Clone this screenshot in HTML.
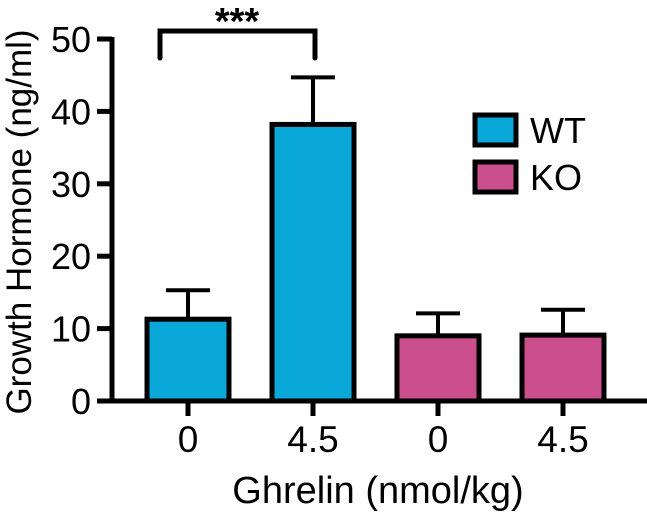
<!DOCTYPE html>
<html><head><meta charset="utf-8"><style>
body{margin:0;background:#fff;}
svg text{font-family:"Liberation Sans",Arial,sans-serif;fill:#000;}
</style></head><body>
<svg id="chart" width="647" height="513" viewBox="0 0 647 513" xmlns="http://www.w3.org/2000/svg">
<g id="bars"></g>
<g id="axes"></g>
</svg>
<script>
const categories = ["0","4.5","0","4.5"];
const groups = ["WT","WT","KO","KO"];
const values = [11.3, 38.2, 9.0, 9.1];
const errors = [4.0, 6.5, 3.1, 3.5];
const yTicks = [0,10,20,30,40,50];
const colors = {WT:"#0aa8d8", KO:"#cc4f8d"};
const NS="http://www.w3.org/2000/svg";
const gb=document.getElementById('bars'), ga=document.getElementById('axes');
function y(v){return 401 - v*7.24;}
function xc(i){return 188 + i*125;}
function mk(tag,attrs,parent,txt){const e=document.createElementNS(NS,tag);for(const k in attrs)e.setAttribute(k,attrs[k]);if(txt!==undefined)e.textContent=txt;parent.appendChild(e);return e;}
const bw=82;
values.forEach((v,i)=>{
  const cx=xc(i);
  const eb=mk('line',{x1:cx,x2:cx,y1:y(v),y2:y(v+errors[i]),stroke:'#000','stroke-width':4},gb);
  
  
  const cap=mk('line',{x1:cx-22,x2:cx+22,y1:y(v+errors[i]),y2:y(v+errors[i]),stroke:'#000','stroke-width':4},gb);
  
  
  const r=mk('rect',{x:cx-bw/2,y:y(v),width:bw,height:y(0)-y(v),fill:colors[groups[i]],stroke:'#000','stroke-width':5},gb);
  
  
  const t=mk('line',{x1:cx,x2:cx,y1:401,y2:416,stroke:'#000','stroke-width':5},ga);
  
  
  const l=mk('text',{x:cx,y:452,'font-size':37,'text-anchor':'middle'},ga,categories[i]);
  
  
});
const ya=mk('line',{x1:112,x2:112,y1:y(50)-2,y2:403.5,stroke:'#000','stroke-width':5},ga);


const xa=mk('line',{x1:110,x2:647,y1:401,y2:401,stroke:'#000','stroke-width':5},ga);


yTicks.forEach(v=>{
  const t=mk('line',{x1:97,x2:112,y1:y(v),y2:y(v),stroke:'#000','stroke-width':5},ga);
  
  
  const l=mk('text',{x:91,y:y(v)+13,'font-size':36,'text-anchor':'end'},ga,String(v));
  
  
});
const yt=mk('text',{x:0,y:0,'font-size':35,'text-anchor':'middle',transform:'translate(31,222) rotate(-90)'},ga,'Growth Hormone (ng/ml)');


const xt=mk('text',{x:378,y:503,'font-size':38,'text-anchor':'middle'},ga,'Ghrelin (nmol/kg)');


const br=mk('path',{d:'M160 58 V31 H315 V58',fill:'none',stroke:'#000','stroke-width':5,'stroke-linecap':'round'},ga);


const st=mk('text',{x:237,y:34,'font-size':38,'font-weight':'bold','text-anchor':'middle'},ga,'***');


[["WT",113],["KO",160]].forEach(([g,yy])=>{
  const r=mk('rect',{x:475,y:yy+2,width:41,height:30,fill:colors[g],stroke:'#000','stroke-width':5},ga);
  
  
  const t=mk('text',{x:530,y:yy+30,'font-size':36},ga,g);
  
  
});
</script>
</body></html>
